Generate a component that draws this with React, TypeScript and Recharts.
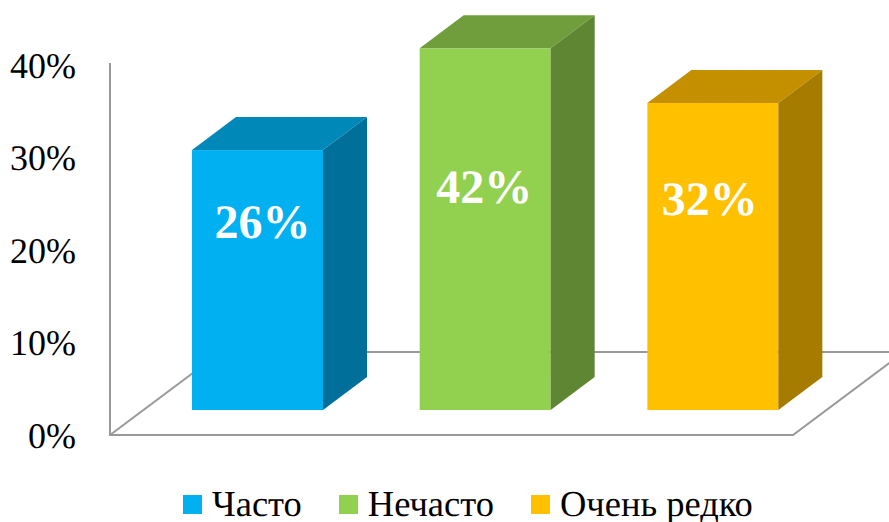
import { BarChart, Bar, XAxis, YAxis, Legend, LabelList, usePlotArea } from "recharts";

const categories = ["Часто", "Нечасто", "Очень редко"];
// bar heights as read against the axis; the printed labels differ from them in the source
const barValues = [28.1, 39.1, 33.2];
const barLabels = ["26%", "42%", "32%"];
const yTicks = [0, 10, 20, 30, 40];

const frontColors = ["#00B0F0", "#92D050", "#FFC000"];
const topColors = ["#0088B9", "#719E3D", "#C49000"];
const sideColors = ["#00709A", "#5F8632", "#A67C00"];

const FONT = '"Liberation Serif", serif';
const AXIS_COLOR = "#999999";

// 3D look: depth of the floor and of a bar, bars sit in the middle of the floor
const FLOOR_DX = 111;
const FLOOR_DY = 83;
const BAR_DX = 44;
const BAR_DY = 33;
const SHIFT_X = (FLOOR_DX - BAR_DX) / 2 + 0.5;
const SHIFT_Y = (FLOOR_DY - BAR_DY) / 2;

// where each label sits from the top left of its front face
const labelPlacement = [
  { dx: 5, dy: 88 },
  { dx: -1, dy: 155 },
  { dx: -3, dy: 112 },
];

const chartData = categories.map((name, i) => ({
  name,
  [name]: barValues[i],
  [`${name} label`]: barLabels[i],
}));

function Floor() {
  const plot = usePlotArea();
  if (!plot) return null;
  const left = plot.x;
  const right = plot.x + plot.width;
  const bottom = plot.y + plot.height;
  const style = { stroke: AXIS_COLOR, fill: "none", strokeWidth: 2 };
  return (
    <g>
      <path
        d={`M${left} ${plot.y - 2} L${left} ${bottom} L${right} ${bottom} L${right + FLOOR_DX} ${bottom - FLOOR_DY} L${left + FLOOR_DX} ${bottom - FLOOR_DY}`}
        {...style}
      />
      <path d={`M${left} ${bottom} L${left + FLOOR_DX} ${bottom - FLOOR_DY}`} {...style} />
    </g>
  );
}

function Box(props: any, i: number) {
  const { x, y, width, height } = props;
  if (!height || height <= 0) return <g />;
  const l = x + SHIFT_X;
  const r = l + width;
  const t = y - SHIFT_Y;
  const b = t + height;
  return (
    <g>
      <rect x={l} y={t} width={width} height={height} fill={frontColors[i]} />
      <polygon
        points={`${l},${t} ${l + BAR_DX},${t - BAR_DY} ${r + BAR_DX},${t - BAR_DY} ${r},${t}`}
        fill={topColors[i]}
      />
      <polygon
        points={`${r},${t} ${r + BAR_DX},${t - BAR_DY} ${r + BAR_DX},${b - BAR_DY} ${r},${b}`}
        fill={sideColors[i]}
      />
    </g>
  );
}

function BarText(props: any, i: number) {
  const { x, y, width, value } = props;
  if (!value) return null;
  return (
    <text
      x={x + SHIFT_X + width / 2 + labelPlacement[i].dx}
      y={y - SHIFT_Y + labelPlacement[i].dy}
      textAnchor="middle"
      fill="#FFFFFF"
      fontFamily={FONT}
      fontWeight="bold"
      fontSize={48}
      textRendering="geometricPrecision"
    >
      {value}
    </text>
  );
}

function LegendRow() {
  return (
    <div
      style={{
        display: "flex",
        paddingLeft: 183,
        paddingTop: 51,
        fontFamily: FONT,
        fontSize: 36.5,
        lineHeight: "36px",
        color: "#000000",
        textRendering: "geometricPrecision",
      }}
    >
      {categories.map((name, i) => (
        <div key={name} style={{ display: "flex", alignItems: "center", marginRight: 37 }}>
          <span
            style={{ width: 19, height: 19, marginRight: 10, background: frontColors[i], display: "inline-block" }}
          />
          <span>{name}</span>
        </div>
      ))}
    </div>
  );
}

export default function App() {
  return (
    <div style={{ position: "absolute", left: 0, top: 0, width: 889, height: 522, background: "#FFFFFF" }}>
      <BarChart
        width={889}
        height={522}
        data={chartData}
        margin={{ top: 65, right: 96, bottom: 0, left: 0 }}
        barSize={131}
      >
        <Floor />
        <XAxis dataKey="name" hide />
        <YAxis
          width={110}
          domain={[0, 40]}
          ticks={yTicks}
          tickFormatter={(v) => `${v}%`}
          axisLine={false}
          tickLine={false}
          tickMargin={28}
          tick={{ fill: "#000000", fontSize: 36, fontFamily: FONT, textRendering: "geometricPrecision" }}
        />
        <Legend verticalAlign="bottom" height={87} content={<LegendRow />} />
        {categories.map((name, i) => (
          <Bar
            key={name}
            dataKey={name}
            stackId="a"
            isAnimationActive={false}
            shape={(p: any) => Box(p, i)}
          >
            <LabelList dataKey={`${name} label`} content={(p: any) => BarText(p, i)} />
          </Bar>
        ))}
      </BarChart>
    </div>
  );
}
